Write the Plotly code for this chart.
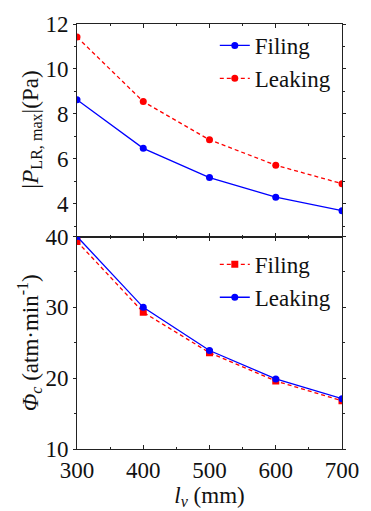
import plotly.graph_objects as go
from plotly.subplots import make_subplots

lv = [300, 400, 500, 600, 700]
p_filing = [8.63, 6.47, 5.17, 4.30, 3.70]
p_leaking = [11.42, 8.55, 6.85, 5.72, 4.90]
phi_filing = [39.3, 29.3, 23.6, 19.6, 16.8]
phi_leaking = [40.0, 30.0, 23.9, 19.9, 17.1]

BLUE = "#0000ff"
RED = "#ff0000"
FONT = "Liberation Serif"
FS = 23

fig = make_subplots(rows=2, cols=1, shared_xaxes=True, vertical_spacing=0)

fig.add_trace(go.Scatter(x=lv, y=p_filing, name="Filing", mode="lines+markers",
                         line=dict(color=BLUE, width=1.3),
                         marker=dict(symbol="circle", size=7, color=BLUE),
                         legend="legend"), row=1, col=1)
fig.add_trace(go.Scatter(x=lv, y=p_leaking, name="Leaking", mode="lines+markers",
                         line=dict(color=RED, width=1.3, dash="4px,3px"),
                         marker=dict(symbol="circle", size=7, color=RED),
                         legend="legend"), row=1, col=1)
fig.add_trace(go.Scatter(x=lv, y=phi_filing, name="Filing", mode="lines+markers",
                         line=dict(color=RED, width=1.3, dash="4px,3px"),
                         marker=dict(symbol="square", size=7, color=RED),
                         legend="legend2"), row=2, col=1)
fig.add_trace(go.Scatter(x=lv, y=phi_leaking, name="Leaking", mode="lines+markers",
                         line=dict(color=BLUE, width=1.3),
                         marker=dict(symbol="circle", size=7, color=BLUE),
                         legend="legend2"), row=2, col=1)

axcommon = dict(showline=True, linecolor="#222", linewidth=1, mirror="allticks",
                showgrid=False, zeroline=False, tickcolor="#222",
                tickfont=dict(family=FONT, size=FS, color="#111"))

fig.update_xaxes(**axcommon, range=[300, 700], dtick=100, ticks="inside", ticklen=4,
                 minor=dict(dtick=50, ticks="inside", ticklen=2, tickcolor="#222"))
fig.update_xaxes(showticklabels=False, row=1, col=1)
fig.update_xaxes(title=dict(text="<i>l</i><sub><i>v</i></sub> (mm)",
                            font=dict(family=FONT, size=FS, color="#111"), standoff=0),
                 row=2, col=1)

fig.update_yaxes(**axcommon, ticks="outside", ticklen=3)
fig.update_yaxes(range=[2.55, 12], tickvals=[4, 6, 8, 10, 12],
                 minor=dict(dtick=1, ticks="outside", ticklen=2, tickcolor="#222"),
                 title=dict(text="<i>|P</i><sub>LR, max</sub>|(Pa)",
                            font=dict(family=FONT, size=FS, color="#111"), standoff=0),
                 row=1, col=1)
fig.update_yaxes(range=[10, 40], tickvals=[10, 20, 30, 40],
                 minor=dict(dtick=5, ticks="outside", ticklen=2, tickcolor="#222"),
                 title=dict(text="<i>Φ</i><sub><i>c</i></sub> (atm·min<sup>-1</sup>)",
                            font=dict(family=FONT, size=FS, color="#111"), standoff=0),
                 row=2, col=1)

fig.update_layout(
    width=371, height=511,
    margin=dict(l=77, r=19, t=24, b=54),
    paper_bgcolor="white", plot_bgcolor="white",
    font=dict(family=FONT, size=FS, color="#111"),
    legend=dict(x=0.52, y=1.0, xanchor="left", yanchor="top",
                bgcolor="rgba(0,0,0,0)", font=dict(family=FONT, size=FS),
                tracegroupgap=0),
    legend2=dict(x=0.52, y=0.485, xanchor="left", yanchor="top",
                 bgcolor="rgba(0,0,0,0)", font=dict(family=FONT, size=FS),
                 tracegroupgap=0),
)

fig.write_html("out.html")
